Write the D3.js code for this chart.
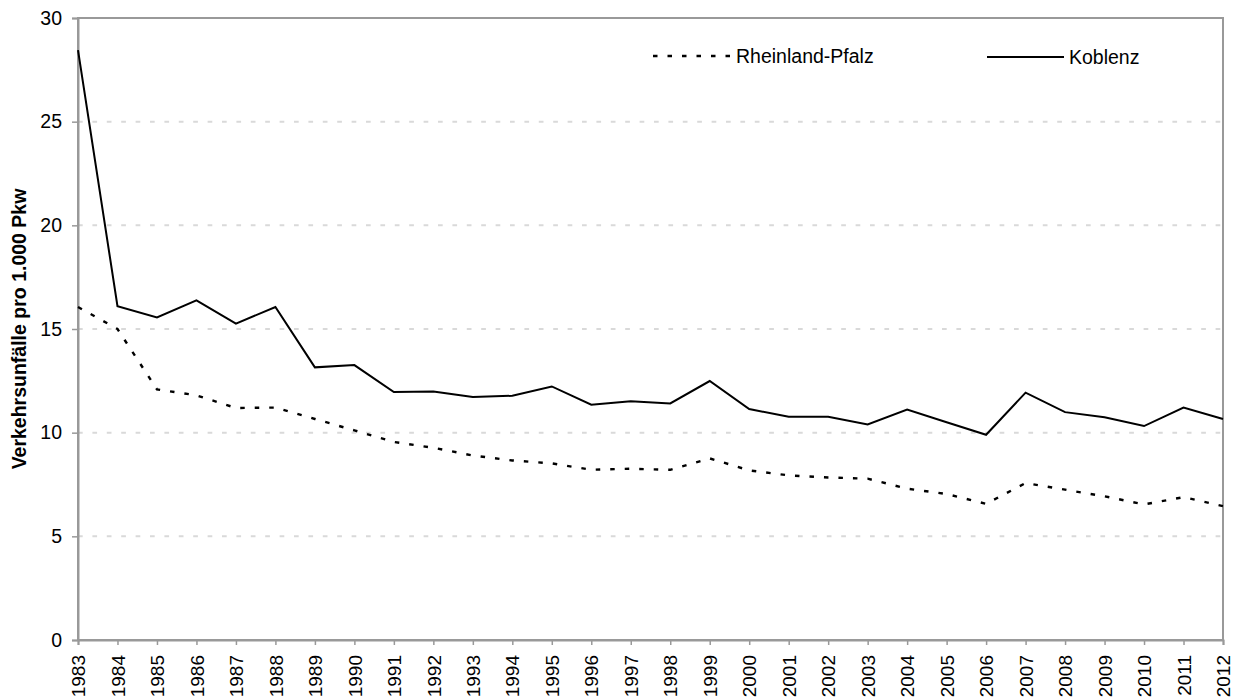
<!DOCTYPE html>
<html>
<head>
<meta charset="utf-8">
<script src="https://cdn.jsdelivr.net/npm/d3@7"></script>
<style>
    body { margin: 0; background: #fff; }
    svg { display: block; font-family: "Liberation Sans", Arial, sans-serif; }
</style>
</head>
<body>
<div id="chart"></div>
<script>
// Daten
var years = [1983, 1984, 1985, 1986, 1987, 1988, 1989, 1990, 1991, 1992,
    1993, 1994, 1995, 1996, 1997, 1998, 1999, 2000, 2001, 2002,
    2003, 2004, 2005, 2006, 2007, 2008, 2009, 2010, 2011, 2012]

var rheinlandPfalz = [16.06, 15.0, 12.09, 11.8, 11.19, 11.21, 10.66, 10.11, 9.55, 9.27,
    8.9, 8.66, 8.52, 8.21, 8.26, 8.21, 8.76, 8.18, 7.94, 7.84,
    7.78, 7.3, 7.04, 6.57, 7.57, 7.25, 6.93, 6.54, 6.89, 6.46]

var koblenz = [28.45, 16.1, 15.56, 16.38, 15.26, 16.06, 13.15, 13.26, 11.96, 11.99,
    11.72, 11.78, 12.23, 11.35, 11.51, 11.41, 12.49, 11.14, 10.77, 10.77,
    10.4, 11.11, 10.5, 9.9, 11.93, 10.99, 10.74, 10.32, 11.21, 10.66]

var yTicks = [0, 5, 10, 15, 20, 25, 30]
var seriesNames = ['Rheinland-Pfalz', 'Koblenz']
var yTitle = 'Verkehrsunfälle pro 1.000 Pkw'

var W = 1236,
    H = 699,
    margin = { top: 18, right: 13, bottom: 59, left: 78 },
    w = W - margin.left - margin.right,
    h = H - margin.top - margin.bottom,
    axisColor = '#999999',
    gridColor = '#d9d9d9'

var svg = d3.select('#chart').append('svg')
    .attr('width', W)
    .attr('height', H)

var g = svg.append('g')
    .attr('transform', 'translate(' + margin.left + ',' + margin.top + ')')

var x = d3.scalePoint().domain(years).range([0, w])
var y = d3.scaleLinear().domain([0, 30]).range([h, 0])

// Gitterlinien
g.selectAll('line.grid')
    .data(yTicks.filter(function (d) { return d > 0 && d < 30 }))
    .enter()
    .append('line')
    .attr('class', 'grid')
    .attr('x1', 0)
    .attr('x2', w)
    .attr('y1', function (d) { return y(d) })
    .attr('y2', function (d) { return y(d) })
    .attr('stroke', gridColor)
    .attr('stroke-width', 2)
    .attr('stroke-dasharray', '4.7,9.7')

// Rahmen
g.append('rect')
    .attr('x', 0)
    .attr('y', 0)
    .attr('width', w)
    .attr('height', h)
    .attr('fill', 'none')
    .attr('stroke', axisColor)
    .attr('stroke-width', 2)

// Y-Achse
var yAxis = g.append('g')
    .call(d3.axisLeft(y).tickValues(yTicks).tickSize(6).tickPadding(10))
yAxis.select('.domain').attr('stroke', axisColor).attr('stroke-width', 2)
yAxis.selectAll('.tick line').attr('stroke', axisColor).attr('stroke-width', 1.5)
yAxis.selectAll('.tick text')
    .attr('fill', '#000')
    .style('font-size', '19.5px')

// X-Achse
var xAxis = g.append('g')
    .attr('transform', 'translate(0,' + h + ')')
    .call(d3.axisBottom(x).tickSize(5))
xAxis.select('.domain').attr('stroke', axisColor).attr('stroke-width', 2)
xAxis.selectAll('.tick line').attr('stroke', axisColor).attr('stroke-width', 1.5)
xAxis.selectAll('.tick text')
    .attr('fill', '#000')
    .style('font-size', '19px')
    .attr('transform', 'rotate(-90)')
    .attr('x', -15)
    .attr('y', 0)
    .attr('dy', '0.35em')
    .attr('text-anchor', 'end')

// Achsentitel
svg.append('text')
    .attr('transform', 'translate(19,' + (margin.top + h / 2) + ') rotate(-90)')
    .attr('text-anchor', 'middle')
    .attr('dy', '0.35em')
    .style('font-size', '19.5px')
    .style('font-weight', 'bold')
    .text(yTitle)

// Linien
var line = d3.line()
    .x(function (d, i) { return x(years[i]) })
    .y(function (d) { return y(d) })

g.append('path')
    .datum(rheinlandPfalz)
    .attr('fill', 'none')
    .attr('stroke', '#000')
    .attr('stroke-width', 2.4)
    .attr('stroke-dasharray', '4.5,10')
    .attr('d', line)

g.append('path')
    .datum(koblenz)
    .attr('fill', 'none')
    .attr('stroke', '#000')
    .attr('stroke-width', 2)
    .attr('d', line)

// Legende
var legend = [
    { name: seriesNames[0], x1: 653, x2: 731, y: 56, dash: '4.5,10', sw: 2.4 },
    { name: seriesNames[1], x1: 987, x2: 1064, y: 57, dash: null, sw: 2 }
]
var entries = svg.selectAll('g.legend')
    .data(legend)
    .enter()
    .append('g')
    .attr('class', 'legend')

entries.append('line')
    .attr('x1', function (d) { return d.x1 })
    .attr('x2', function (d) { return d.x2 })
    .attr('y1', function (d) { return d.y })
    .attr('y2', function (d) { return d.y })
    .attr('stroke', '#000')
    .attr('stroke-width', function (d) { return d.sw })
    .attr('stroke-dasharray', function (d) { return d.dash })

entries.append('text')
    .attr('x', function (d) { return d.x2 + 5 })
    .attr('y', function (d) { return d.y })
    .attr('dy', '0.35em')
    .style('font-size', '19.5px')
    .text(function (d) { return d.name })
</script>
</body>
</html>
